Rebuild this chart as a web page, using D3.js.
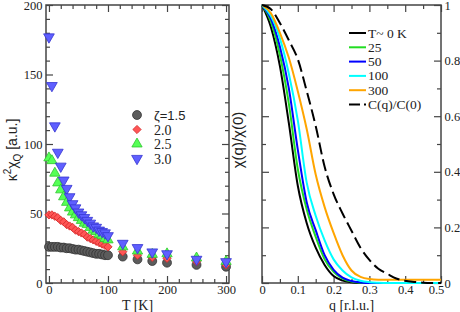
<!DOCTYPE html>
<html>
<head>
<meta charset="utf-8">
<script src="https://cdn.jsdelivr.net/npm/d3@7"></script>
<style>
  body { margin: 0; background: #fff; }
  svg { display: block; }
</style>
</head>
<body>
<svg id="chart" width="460" height="312"></svg>
<script>
// left panel: susceptibility vs temperature
const temps = [0, 5, 10, 15, 20, 25, 30, 35, 40, 45, 50, 55, 60, 65, 70, 75, 80, 85, 90, 95, 100, 125, 150, 175, 200, 250, 300];
const zeta15 = [26, 26, 26, 26, 25.5, 25.5, 25, 25, 24.5, 24, 24, 23.5, 23, 22.5, 22, 21.5, 21, 21, 20.5, 20, 20, 19, 17, 15.8, 14.6, 13, 11.7];
const zeta20 = [49, 49, 48, 47, 45, 44, 42, 41, 40, 38, 37, 36, 35, 33, 32, 31, 30, 29, 28, 27, 26, 22.5, 20, 18.5, 17.8, 15.3, 13];
const zeta25 = [90, 88, 79, 72, 67, 62, 58, 54, 51, 49, 47, 45, 43, 42, 40, 38, 37, 35, 34, 32, 31, 26, 23, 20.6, 21, 18, 15.5];
const zeta30 = [177, 142, 113, 94, 84, 74, 68, 62, 57, 54, 51, 49, 47, 45, 43, 41, 40, 38, 37, 36, 34, 28.5, 25.4, 22.3, 21, 17, 15.3];
const zetaLabels = ["ζ=1.5", "2.0", "2.5", "3.0"];

// right panel: normalised chi(q)
const qGrid = [0, 0.025, 0.05, 0.075, 0.1, 0.125, 0.15, 0.175, 0.2, 0.225, 0.25, 0.275, 0.3, 0.325, 0.35, 0.375, 0.4, 0.425, 0.45, 0.475, 0.5];
const chiT0 = [1, 0.92, 0.78, 0.575, 0.35, 0.215, 0.127, 0.065, 0.025, 0.009, 0.003, 0, 0, 0, 0, 0, 0, 0, 0, 0, 0];
const chiT25 = [1, 0.94, 0.82, 0.645, 0.41, 0.264, 0.166, 0.085, 0.04, 0.016, 0.005, 0.001, 0, 0, 0, 0, 0, 0, 0, 0, 0];
const chiT50 = [1, 0.95, 0.85, 0.7, 0.48, 0.29, 0.19, 0.1, 0.047, 0.019, 0.007, 0.002, 0, 0, 0, 0, 0, 0, 0, 0, 0];
const chiT100 = [1, 0.96, 0.88, 0.753, 0.585, 0.36, 0.242, 0.153, 0.085, 0.045, 0.02, 0.008, 0.003, 0.001, 0, 0, 0, 0, 0, 0, 0];
const chiT300 = [1, 0.97, 0.9, 0.81, 0.69, 0.553, 0.39, 0.273, 0.18, 0.1, 0.045, 0.022, 0.014, 0.012, 0.012, 0.012, 0.012, 0.012, 0.012, 0.012, 0.012];
const corrRatio = [1, 0.985, 0.935, 0.873, 0.805, 0.69, 0.565, 0.418, 0.32, 0.25, 0.188, 0.127, 0.083, 0.051, 0.033, 0.016, 0.008, 0.004, 0.001, 0, 0];
const curveLabels = ["T~ 0 K", "25", "50", "100", "300", "C(q)/C(0)"];

const svg = d3.select("#chart");
const serif = "Liberation Serif";
const sans = "Liberation Sans";
const frameColor = "#444";

// ---------- scales ----------
const xL = d3.scaleLinear().domain([-5, 305]).range([46, 229]);
const yL = d3.scaleLinear().domain([0, 200]).range([283, 5]);
const xR = d3.scaleLinear().domain([0, 0.5]).range([262, 441]);
const yR = d3.scaleLinear().domain([0, 1]).range([283, 5]);

function drawFrame(x, y, xMajor, xMinor, yMajor, yMinor, xFmt, yFmt, yLabelsRight) {
    const g = svg.append("g");
    const [x0, x1] = x.range();
    const [y0, y1] = y.range();

    const axes = [
        [d3.axisBottom(x), y0, xFmt, "xbottom"],
        [d3.axisTop(x), y1, null, "xtop"],
    ];
    axes.forEach(([axis, pos, fmt, cls]) => {
        g.append("g").attr("class", cls).attr("transform", `translate(0,${pos})`)
            .call(axis.tickValues(xMajor).tickSizeInner(-7).tickSizeOuter(0).tickPadding(2.5)
                .tickFormat(fmt ? fmt : () => ""));
        g.append("g").attr("transform", `translate(0,${pos})`)
            .call(axis.tickValues(xMinor).tickSizeInner(-4).tickSizeOuter(0).tickFormat(() => ""));
    });

    const yaxes = [
        [d3.axisLeft(y), x0, yLabelsRight ? null : yFmt],
        [d3.axisRight(y), x1, yLabelsRight ? yFmt : null],
    ];
    yaxes.forEach(([axis, pos, fmt]) => {
        g.append("g").attr("transform", `translate(${pos},0)`)
            .call(axis.tickValues(yMajor).tickSizeInner(-7).tickSizeOuter(0).tickPadding(3.5)
                .tickFormat(fmt ? fmt : () => ""));
        g.append("g").attr("transform", `translate(${pos},0)`)
            .call(axis.tickValues(yMinor).tickSizeInner(-4).tickSizeOuter(0).tickFormat(() => ""));
    });

    g.selectAll(".domain").remove();
    g.selectAll(".tick line").attr("stroke", frameColor).attr("stroke-width", 1.2);
    g.selectAll(".tick text")
        .attr("fill", "#222")
        .style("font-family", serif)
        .style("font-size", "12.5px");

    g.append("rect")
        .attr("x", x0).attr("y", y1)
        .attr("width", x1 - x0).attr("height", y0 - y1)
        .attr("fill", "none")
        .attr("stroke", frameColor)
        .attr("stroke-width", 1.5);
    return g;
}

// ---------- left panel ----------
drawFrame(xL, yL,
    [0, 100, 200, 300], d3.range(20, 300, 20).filter(d => d % 100 !== 0),
    [0, 50, 100, 150, 200], d3.range(10, 200, 10).filter(d => d % 50 !== 0),
    d3.format("d"), d3.format("d"), false);

const series = [
    { values: zeta15, shape: d3.symbolCircle, size: 62, rot: 0, fill: "#5c5c5c", stroke: "#333" },
    { values: zeta20, shape: d3.symbolSquare, size: 34, rot: 45, fill: "#ff5555", stroke: "#d42a2a" },
    { values: zeta25, shape: d3.symbolTriangle, size: 46, rot: 0, fill: "#55ff55", stroke: "#2fc42f" },
    { values: zeta30, shape: d3.symbolTriangle, size: 50, rot: 180, fill: "#5f5fff", stroke: "#3535d0" },
];

series.forEach(s => {
    const sym = d3.symbol().type(s.shape).size(s.size);
    svg.append("g")
        .selectAll("path")
        .data(temps.map((t, i) => [t, s.values[i]]))
        .join("path")
        .attr("d", sym)
        .attr("transform", d => `translate(${xL(d[0])},${yL(d[1])}) rotate(${s.rot})`)
        .attr("fill", s.fill)
        .attr("stroke", s.stroke)
        .attr("stroke-width", 0.8);
});

// left legend
const legL = svg.append("g");
series.forEach((s, i) => {
    const y = 115 + i * 14.5;
    legL.append("path")
        .attr("d", d3.symbol().type(s.shape).size(s.size))
        .attr("transform", `translate(137,${y}) rotate(${s.rot})`)
        .attr("fill", s.fill)
        .attr("stroke", s.stroke)
        .attr("stroke-width", 0.8);
    legL.append("text")
        .attr("x", 154).attr("y", y + 5)
        .attr("fill", "#222")
        .style("font-family", i === 0 ? sans : serif)
        .style("font-size", i === 0 ? "13px" : "14px")
        .text(zetaLabels[i]);
});

// left axis titles
svg.append("text")
    .attr("x", xL(150)).attr("y", 310)
    .attr("text-anchor", "middle")
    .attr("fill", "#222")
    .style("font-family", serif)
    .style("font-size", "14px")
    .text("T [K]");

const yTitle = svg.append("text")
    .attr("transform", "translate(17,150) rotate(-90)")
    .attr("text-anchor", "middle")
    .attr("fill", "#222")
    .style("font-family", sans)
    .style("font-size", "14px");
yTitle.append("tspan").text("κ");
yTitle.append("tspan").attr("dy", -6).style("font-size", "10px").text("2");
yTitle.append("tspan").attr("dy", 6).text("χ");
yTitle.append("tspan").attr("dy", 4).style("font-size", "10px").text("Q");
yTitle.append("tspan").attr("dy", -4).text(" [a.u.]");

// ---------- right panel ----------
const frameR = drawFrame(xR, yR,
    [0, 0.1, 0.2, 0.3, 0.4, 0.5], [0.05, 0.15, 0.25, 0.35, 0.45],
    [0, 0.2, 0.4, 0.6, 0.8, 1], [0.1, 0.3, 0.5, 0.7, 0.9],
    d => d3.format("")(d), d => d3.format("")(d), true);
// "0.5" sits a bit left of the corner so it does not run into the right "0"
frameR.selectAll(".xbottom .tick text").filter(d => d === 0.5).attr("dx", -5);

const curves = [
    { values: chiT0, color: "#000000", dash: null },
    { values: chiT25, color: "#22dd22", dash: null },
    { values: chiT50, color: "#0000ff", dash: null },
    { values: chiT100, color: "#00ffff", dash: null },
    { values: chiT300, color: "#ffa500", dash: null },
    { values: corrRatio, color: "#000000", dash: "12,5" },
];

const line = d3.line()
    .x(d => xR(d[0]))
    .y(d => yR(d[1]))
    .curve(d3.curveMonotoneX);

svg.append("g")
    .selectAll("path")
    .data(curves)
    .join("path")
    .attr("d", c => line(qGrid.map((q, i) => [q, c.values[i]])))
    .attr("fill", "none")
    .attr("stroke", c => c.color)
    .attr("stroke-width", 2)
    .attr("stroke-dasharray", c => c.dash);

// right legend
const legR = svg.append("g");
curves.forEach((c, i) => {
    const y = 33 + i * 14.3;
    legR.append("line")
        .attr("x1", 349).attr("x2", 366)
        .attr("y1", y).attr("y2", y)
        .attr("stroke", c.color)
        .attr("stroke-width", 2)
        .attr("stroke-dasharray", c.dash ? "11,4" : null);
    legR.append("text")
        .attr("x", 368).attr("y", y + 4.5)
        .attr("fill", "#222")
        .style("font-family", serif)
        .style("font-size", "13.5px")
        .text(curveLabels[i]);
});

// right axis titles
svg.append("text")
    .attr("x", xR(0.25)).attr("y", 310)
    .attr("text-anchor", "middle")
    .attr("fill", "#222")
    .style("font-family", serif)
    .style("font-size", "14px")
    .text("q [r.l.u.]");

svg.append("text")
    .attr("transform", "translate(243,140) rotate(-90)")
    .attr("text-anchor", "middle")
    .attr("fill", "#222")
    .style("font-family", sans)
    .style("font-size", "15px")
    .text("χ(q)/χ(0)");
</script>
</body>
</html>
